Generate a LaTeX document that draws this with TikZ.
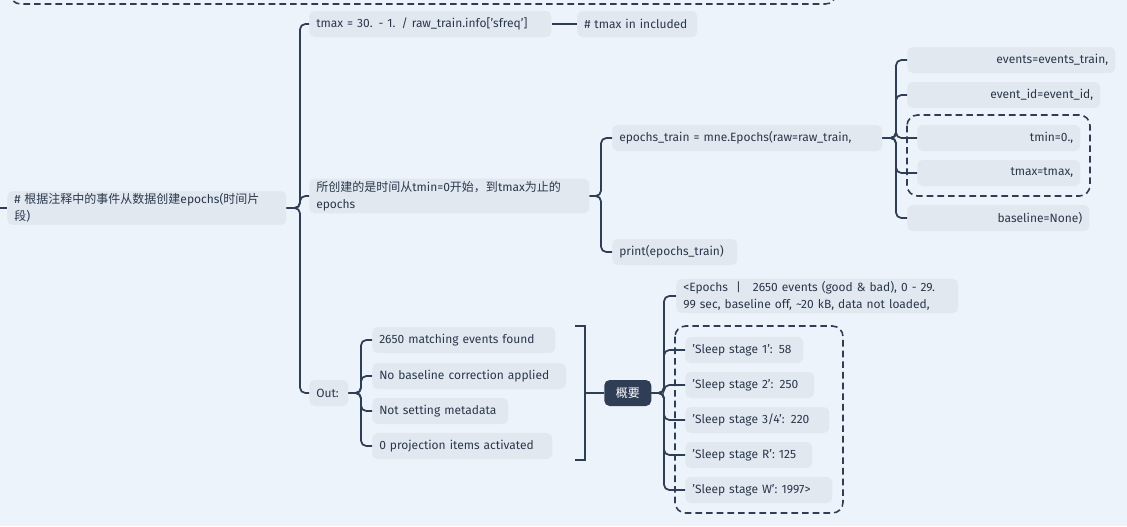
\documentclass[tikz,border=0pt]{standalone}
\usepackage{fontspec}
\setmainfont{Fira Sans}
\newfontfamily\cjk{Noto Sans CJK SC}
\begin{document}
\definecolor{bg}{HTML}{EDF3FA}
\definecolor{nf}{HTML}{E2E8F0}
\definecolor{ln}{HTML}{2F3E55}
\begin{tikzpicture}[x=0.75pt,y=-0.75pt,
  box/.style={fill=nf,rounded corners=4pt,inner xsep=5.25pt,inner ysep=2pt,minimum height=19.5pt,anchor=west,font=\fontsize{9pt}{12.5pt}\selectfont,text=ln!90!black},
  L/.style={box,align=left,text width=#1},
  R/.style={box,align=right,text width=#1},
  br/.style={draw=ln,line width=1.3pt,rounded corners=4pt},
  dbox/.style={draw=ln,line width=1.2pt,dashed,dash pattern=on 5pt off 3pt,rounded corners=8pt}]
\fill[bg] (0,0) rectangle (1127,526);
\useasboundingbox (0,0) rectangle (1127,526);
\draw[dbox] (10,-30) rectangle (836,4);
% nodes
\node[L=198.75pt] (root) at (7,208) {\mbox{\# {\cjk 根据注释中的事件从数据创建}epochs({\cjk 时间片}}\\\mbox{{\cjk 段})}};
\coordinate (rl) at (0,208);
\node[L=171pt] (tmax) at (309,24) {\mbox{tmax = 30. - 1. / raw\_train.info['sfreq']}};
\node[L=79.5pt] (inc) at (577,24) {\mbox{\# tmax in included}};
\node[L=199.5pt] (suo) at (309,196) {\mbox{{\cjk 所创建的是时间从}tmin=0{\cjk 开始，到}tmax{\cjk 为止的}}\\\mbox{epochs}};
\node[L=192pt] (ep) at (612,138) {\mbox{epochs\_train = mne.Epochs(raw=raw\_train,}};
\node[L=83.25pt] (pr) at (612,252) {\mbox{print(epochs\_train)}};
\node[R=145.5pt] (ev) at (907,60) {\mbox{events=events\_train,}};
\node[R=134.25pt] (eid) at (907,95) {\mbox{event\_id=event\_id,}};
\node[R=111.75pt] (tmin) at (917,138) {\mbox{tmin=0.,}};
\node[R=111.75pt] (tmx) at (917,173) {\mbox{tmax=tmax,}};
\node[R=126pt] (bl) at (907,218) {\mbox{baseline=None)}};
\draw[dbox] (907,115) rectangle (1090,196);
\node[L=18.75pt] (out) at (309,393) {\mbox{Out:}};
\node[L=126.75pt] (m1) at (372,340) {\mbox{2650 matching events found}};
\node[L=135pt] (m2) at (372,376) {\mbox{No baseline correction applied}};
\node[L=91.5pt] (m3) at (372,411) {\mbox{Not setting metadata}};
\node[L=124.5pt] (m4) at (372,446) {\mbox{0 projection items activated}};
\node[box,fill=ln,text=white,minimum width=35.25pt] (gy) at (604,393) {\cjk 概要};
\node[L=201pt] (E) at (676,296) {\mbox{<Epochs\ \ |\ \ \ 2650 events (good \& bad), 0 - 29.}\\\mbox{99 sec, baseline off, \textasciitilde20 kB, data not loaded,}};
\node[L=78pt] (s1) at (685,350) {\mbox{'Sleep stage 1': 58}};
\node[L=86.25pt] (s2) at (685,385) {\mbox{'Sleep stage 2': 250}};
\node[L=97.5pt] (s3) at (685,420) {\mbox{'Sleep stage 3/4': 220}};
\node[L=84.75pt] (sR) at (685,455) {\mbox{'Sleep stage R': 125}};
\node[L=99.75pt] (sW) at (685,490) {\mbox{'Sleep stage W': 1997>}};
\draw[dbox] (675,326) rectangle (843,513);
% connectors
\draw[br] (rl) -- (root.west);
\foreach \c in {tmax,suo,out} \draw[br] (root.east) -- (300,208) |- (\c.west);
\draw[br] (tmax.east) -- (inc.west);
\foreach \c in {ep,pr} \draw[br] (suo.east) -- (601,196) |- (\c.west);
\foreach \c in {ev,eid,tmin,tmx,bl} \draw[br] (ep.east) -- (896,138) |- (\c.west);
\foreach \c in {m1,m2,m3,m4} \draw[br] (out.east) -- (361,393) |- (\c.west);
\draw[draw=ln,line width=1.3pt] (575,326) -- (585,326) -- (585,460) -- (575,460);
\coordinate (bk) at (585,393);
\draw[br] (bk) -- (gy.west);
\foreach \c in {E,s1,s2,s3,sR,sW} \draw[br] (gy.east) -- (664,393) |- (\c.west);
\end{tikzpicture}
\end{document}
